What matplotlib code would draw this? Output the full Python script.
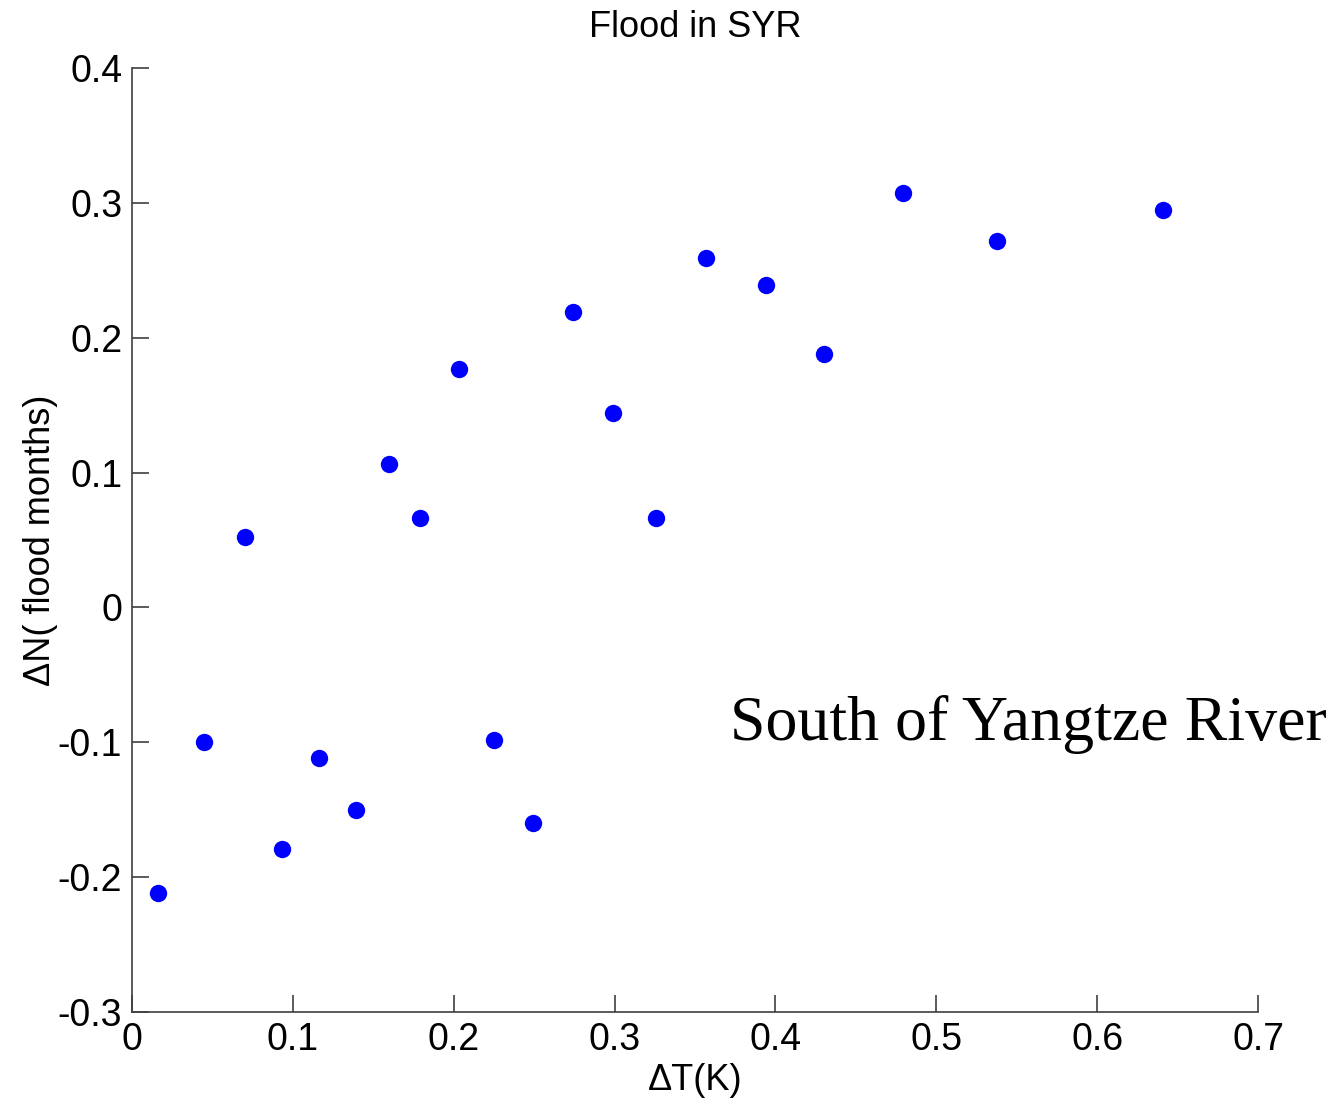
import matplotlib
matplotlib.use('Agg')
import matplotlib.pyplot as plt

# values
dT = [0.016, 0.045, 0.070, 0.093, 0.116, 0.139, 0.160, 0.179, 0.203, 0.225,
      0.249, 0.274, 0.299, 0.326, 0.357, 0.394, 0.430, 0.479, 0.538, 0.641]
dN = [-0.212, -0.100, 0.052, -0.179, -0.112, -0.150, 0.106, 0.066, 0.177, -0.098,
      -0.160, 0.219, 0.144, 0.066, 0.259, 0.239, 0.188, 0.307, 0.272, 0.295]

xticks = [0, 0.1, 0.2, 0.3, 0.4, 0.5, 0.6, 0.7]
yticks = [-0.3, -0.2, -0.1, 0, 0.1, 0.2, 0.3, 0.4]

plt.rcParams['font.family'] = ['Liberation Sans', 'DejaVu Sans']

fig = plt.figure(figsize=(13.35, 11.07), dpi=100)
ax = fig.add_axes([132/1335, 1-1012/1107, (1258-132)/1335, (1012-68)/1107])

ax.plot(dT, dN, 'o', color='#0000ff', markersize=12.5, markeredgewidth=0)

ax.set_xlim(0, 0.7)
ax.set_ylim(-0.3, 0.4)
ax.set_xticks(xticks)
ax.set_yticks(yticks)
ax.set_xticklabels(['0' if v == 0 else ('%g' % v) for v in xticks])
ax.set_yticklabels(['0' if v == 0 else ('%g' % v) for v in yticks])

for s in ['top', 'right']:
    ax.spines[s].set_visible(False)
for s in ['left', 'bottom']:
    ax.spines[s].set_color('#404040')
    ax.spines[s].set_linewidth(1.2)
ax.tick_params(direction='in', length=12, width=1.2, color='#404040',
               labelsize=27, pad=7)

ax.set_title('Flood in SYR', fontsize=26, pad=22)
ax.set_xlabel('ΔT(K)', fontsize=26, labelpad=4)
ax.set_ylabel('ΔN( flood months)', fontsize=26, labelpad=0)

fig.text(730/1335, 1-740/1107, 'South of Yangtze River', fontsize=46,
         family='Liberation Serif', va='baseline', ha='left')

fig.savefig('out.png', dpi=100)
